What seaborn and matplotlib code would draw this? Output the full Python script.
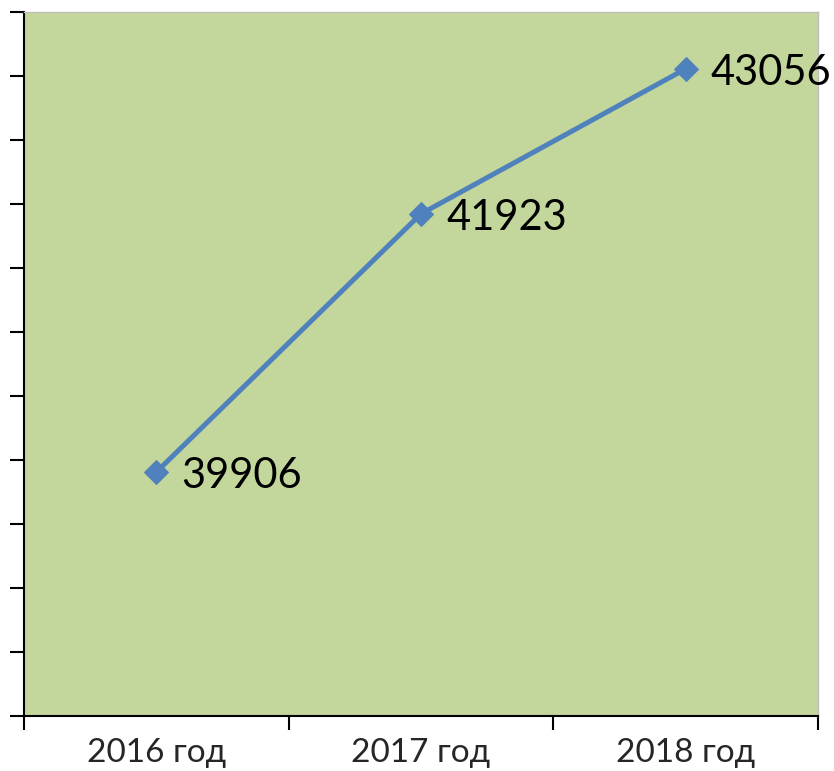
import matplotlib
matplotlib.use("Agg")
import matplotlib.pyplot as plt
import seaborn as sns
import pandas as pd

categories = ["2016 год", "2017 год", "2018 год"]
values = [39906, 41923, 43056]

sns.set_style("white")
plt.rcParams['font.family'] = ['Lato', 'DejaVu Sans']

df = pd.DataFrame({"x": list(range(len(categories))), "y": values})

fig = plt.figure(figsize=(8.34, 7.71), dpi=100)
ax = fig.add_axes([24/834, 1-716/771, (818-24)/834, (716-12)/771])
ax.set_facecolor("#C3D69B")

sns.lineplot(data=df, x="x", y="y", ax=ax, color="#4F81BD", linewidth=3.6,
             marker="D", markersize=12, markeredgecolor="#4F81BD", clip_on=False)

for xi, v in zip(df["x"], df["y"]):
    ax.annotate(str(v), (xi, v), xytext=(18, -3), textcoords="offset points",
                ha="left", va="center", fontsize=30, color="black",
                annotation_clip=False)

ax.set_xlim(-0.5, len(categories) - 0.5)
ax.set_ylim(38000, 43500)
ax.set_yticks(range(38000, 43501, 500))
ax.set_yticklabels([])
ax.set_xticks([i - 0.5 for i in range(len(categories) + 1)])
ax.set_xticklabels([])
ax.set_xticks(range(len(categories)), minor=True)
ax.set_xticklabels(categories, minor=True, fontsize=24)
ax.tick_params(axis="x", which="minor", length=0, pad=16)
ax.tick_params(axis="x", which="major", direction="out", length=10, width=1.5, color="black", bottom=True)
ax.tick_params(axis="y", direction="out", length=10, width=1.5, color="black", left=True)
ax.set_xlabel("")
ax.set_ylabel("")
ax.grid(False)

for s in ["left", "bottom"]:
    ax.spines[s].set_color("black")
    ax.spines[s].set_linewidth(1.5)
for s in ["top", "right"]:
    ax.spines[s].set_color("#BFBFBF")
    ax.spines[s].set_linewidth(1.0)

fig.savefig("out.png", dpi=100)
